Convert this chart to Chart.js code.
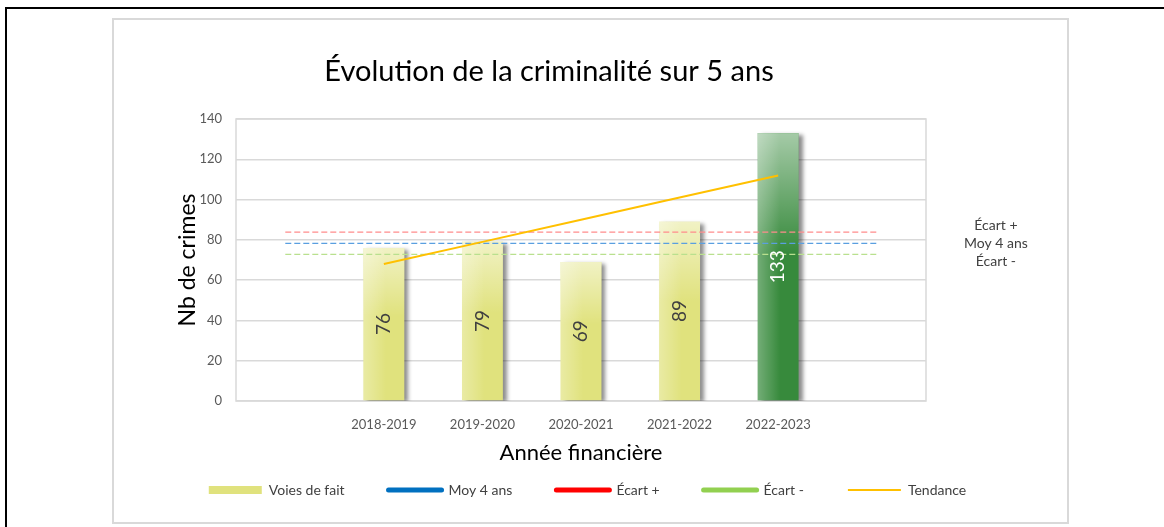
<!DOCTYPE html>
<html lang="fr">
<head>
<meta charset="utf-8">
<script src="https://cdn.jsdelivr.net/npm/chart.js@4.4.1/dist/chart.umd.min.js"></script>
<style>
body { margin: 0; background: #fff; }
#cadre { position: absolute; left: 5px; top: 7px; width: 1200px; height: 600px; border-top: 2px solid #000; border-left: 2px solid #000; }
#boite { position: absolute; left: 112px; top: 18px; width: 953px; height: 502px; border: 2px solid #d9d9d9; background: #fff; }
canvas { display: block; }
</style>
</head>
<body>
<div id="cadre"></div>
<div id="boite"><canvas id="grafico" width="953" height="502"></canvas></div>
<script>
// données
const annees = ['', '2018-2019', '2019-2020', '2020-2021', '2021-2022', '2022-2023', ''];
const voiesDeFait = [null, 76, 79, 69, 89, 133, null];
const moy4ans = [78.25, 78.25, 78.25, 78.25, 78.25, 78.25, 78.25];
const ecartPlus = [83.8, 83.8, 83.8, 83.8, 83.8, 83.8, 83.8];
const ecartMoins = [72.8, 72.8, 72.8, 72.8, 72.8, 72.8, 72.8];
const tendance = [null, 68, 79, 90, 101, 112, null];
const ticksY = [0, 20, 40, 60, 80, 100, 120, 140];
const etiquettesDroite = ['Écart +', 'Moy 4 ans', 'Écart -'];
const titre = 'Évolution de la criminalité sur 5 ans';

const jaune = '#e0e27d';
const vert = '#378a3c';
const couleursBarres = ['', jaune, jaune, jaune, jaune, vert, ''];

Chart.defaults.font.family = 'Lato';

// titre du graphique
const titrePlugin = {
    id: 'titre',
    afterDraw(chart) {
        const ctx = chart.ctx;
        ctx.save();
        ctx.font = '29px Lato';
        ctx.fillStyle = '#000';
        ctx.textAlign = 'center';
        ctx.textBaseline = 'middle';
        ctx.fillText(titre, 435, 52);
        ctx.restore();
    }
};

// cadre de la zone de tracé
const cadrePlugin = {
    id: 'cadreZone',
    beforeDatasetsDraw(chart) {
        const a = chart.chartArea;
        const ctx = chart.ctx;
        ctx.save();
        ctx.strokeStyle = '#d9d9d9';
        ctx.lineWidth = 1.5;
        ctx.strokeRect(a.left, a.top, a.right - a.left, a.bottom - a.top);
        ctx.restore();
    }
};

// ombre et dégradé des barres
const barresPlugin = {
    id: 'barres',
    beforeDatasetDraw(chart, args) {
        if (args.index !== 0) return;
        const ctx = chart.ctx;
        ctx.save();
        ctx.shadowColor = 'rgba(0,0,0,0.45)';
        ctx.shadowBlur = 4;
        ctx.shadowOffsetX = 4;
        ctx.shadowOffsetY = 2;
    },
    afterDatasetDraw(chart, args) {
        if (args.index !== 0) return;
        const ctx = chart.ctx;
        ctx.restore();
        args.meta.data.forEach((bar, i) => {
            if (voiesDeFait[i] == null) return;
            const p = bar.getProps(['x', 'y', 'base', 'width'], true);
            const gauche = p.x - p.width / 2;
            const h = p.base - p.y;
            const g1 = ctx.createLinearGradient(0, p.y, 0, p.y + h * 0.45);
            g1.addColorStop(0, 'rgba(255,255,255,0.55)');
            g1.addColorStop(1, 'rgba(255,255,255,0)');
            ctx.fillStyle = g1;
            ctx.fillRect(gauche, p.y, p.width, h);
            const g2 = ctx.createLinearGradient(gauche, 0, gauche + p.width, 0);
            g2.addColorStop(0, 'rgba(255,255,255,0.3)');
            g2.addColorStop(0.55, 'rgba(255,255,255,0)');
            ctx.fillStyle = g2;
            ctx.fillRect(gauche, p.y, p.width, h);
        });
    },
    afterDatasetsDraw(chart) {
        const ctx = chart.ctx;
        const meta = chart.getDatasetMeta(0);
        ctx.save();
        ctx.font = '19px Lato';
        ctx.textAlign = 'center';
        ctx.textBaseline = 'middle';
        meta.data.forEach((bar, i) => {
            if (voiesDeFait[i] == null) return;
            const p = bar.getProps(['x', 'y', 'base'], true);
            ctx.save();
            ctx.translate(p.x, (p.y + p.base) / 2);
            ctx.rotate(-Math.PI / 2);
            ctx.fillStyle = couleursBarres[i] === vert ? '#fff' : '#404040';
            ctx.fillText(String(voiesDeFait[i]), 0, 0);
            ctx.restore();
        });
        ctx.restore();
    }
};

const legende = [
    { text: 'Voies de fait', fillStyle: jaune, strokeStyle: jaune, lineWidth: 0, pointStyle: 'rect', lineCap: 'butt' },
    { text: 'Moy 4 ans', fillStyle: '#0070c0', strokeStyle: '#0070c0', lineWidth: 5, pointStyle: 'line', lineCap: 'round' },
    { text: 'Écart +', fillStyle: '#ff0000', strokeStyle: '#ff0000', lineWidth: 5, pointStyle: 'line', lineCap: 'round' },
    { text: 'Écart -', fillStyle: '#92d050', strokeStyle: '#92d050', lineWidth: 5, pointStyle: 'line', lineCap: 'round' },
    { text: 'Tendance', fillStyle: '#ffc000', strokeStyle: '#ffc000', lineWidth: 2, pointStyle: 'line', lineCap: 'butt' }
];

const ctx = document.getElementById('grafico').getContext('2d');
window.myChart = new Chart(ctx, {
    type: 'bar',
    data: {
        labels: annees,
        datasets: [
            {
                type: 'bar',
                label: 'Voies de fait',
                data: voiesDeFait,
                backgroundColor: couleursBarres,
                barPercentage: 0.415,
                categoryPercentage: 1,
                order: 10
            },
            {
                type: 'line',
                label: 'Moy 4 ans',
                data: moy4ans,
                borderColor: '#5a9fe0',
                borderWidth: 1.2,
                borderDash: [6, 3],
                pointRadius: 0,
                order: 3
            },
            {
                type: 'line',
                label: 'Écart +',
                data: ecartPlus,
                borderColor: '#ff8c8c',
                borderWidth: 1.2,
                borderDash: [6, 3],
                pointRadius: 0,
                order: 2
            },
            {
                type: 'line',
                label: 'Écart -',
                data: ecartMoins,
                borderColor: '#b9e08e',
                borderWidth: 1.2,
                borderDash: [6, 3],
                pointRadius: 0,
                order: 4
            },
            {
                type: 'line',
                label: 'Tendance',
                data: tendance,
                borderColor: '#ffc000',
                borderWidth: 2,
                pointRadius: 0,
                order: 1
            }
        ]
    },
    options: {
        responsive: false,
        animation: false,
        devicePixelRatio: 1,
        layout: { padding: { left: 14, right: 20, top: 99, bottom: 15 } },
        scales: {
            x: {
                grid: { display: false, drawTicks: false },
                border: { display: false },
                ticks: { color: '#595959', font: { size: 13 }, padding: 16, maxRotation: 0, autoSkip: false },
                title: { display: true, text: 'Année financière', color: '#000', font: { size: 22 }, padding: { top: -9, bottom: -27 } }
            },
            y: {
                min: 0,
                max: 140,
                afterBuildTicks: s => { s.ticks = ticksY.map(v => ({ value: v })); },
                afterFit: s => { s.width = 108; },
                grid: { color: '#d9d9d9', lineWidth: 1.5, drawTicks: false },
                border: { display: false },
                ticks: { color: '#595959', font: { size: 13 }, padding: 14 },
                title: { display: true, text: 'Nb de crimes', color: '#000', font: { size: 23 }, padding: { top: 46, bottom: 1 } }
            },
            y2: {
                position: 'right',
                min: 0,
                max: 140,
                afterBuildTicks: s => { s.ticks = [{ value: moy4ans[0] }]; },
                afterFit: s => { s.width = 121; },
                grid: { display: false, drawTicks: false },
                border: { display: false },
                ticks: {
                    color: '#404040',
                    font: { size: 14, lineHeight: 1.3 },
                    padding: 38,
                    crossAlign: 'center',
                    autoSkip: false,
                    callback: () => etiquettesDroite
                }
            }
        },
        plugins: {
            legend: {
                position: 'bottom',
                labels: {
                    usePointStyle: true,
                    pointStyleWidth: 53,
                    boxHeight: 8,
                    padding: 44,
                    color: '#404040',
                    font: { size: 14 },
                    generateLabels: () => legende.map((l, i) => Object.assign({ datasetIndex: i, hidden: false, fontColor: '#404040', lineDash: [] }, l))
                }
            },
            tooltip: { enabled: false }
        }
    },
    plugins: [titrePlugin, cadrePlugin, barresPlugin]
});
</script>
</body>
</html>
